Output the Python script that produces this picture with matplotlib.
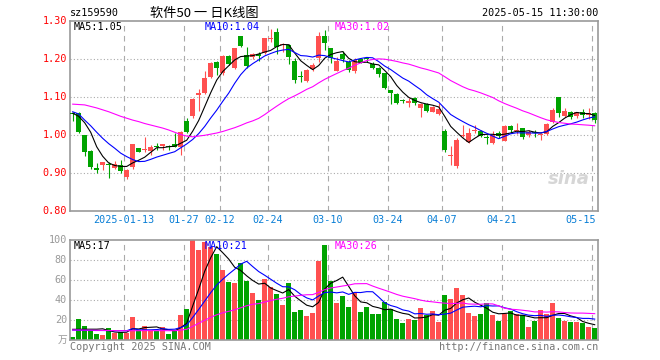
import matplotlib
matplotlib.use("Agg")
import matplotlib.pyplot as plt
import numpy as np
import pandas as pd

plt.rcParams["font.family"] = ["DejaVu Sans Mono", "Noto Sans CJK SC"]

# trading days shown (Shenzhen calendar)
holidays = ["2025-01-01", "2025-01-28", "2025-01-29", "2025-01-30", "2025-01-31",
            "2025-02-03", "2025-02-04", "2025-04-04", "2025-05-01", "2025-05-02",
            "2025-05-05"]
dates = pd.bdate_range("2024-12-30", "2025-05-15", freq="C", holidays=holidays)

open_ = [1.058, 1.058, 1.000, 0.958, 0.912, 0.922, 0.925, 0.913, 0.921, 0.891,
         0.917, 0.967, 0.962, 0.959, 0.971, 0.972, 0.972, 0.977, 0.968, 1.038,
         1.052, 1.105, 1.111, 1.154, 1.194, 1.163, 1.210, 1.176, 1.261, 1.211,
         1.205, 1.212, 1.216, 1.253, 1.271, 1.237, 1.238, 1.196, 1.156, 1.143,
         1.175, 1.203, 1.261, 1.229, 1.170, 1.214, 1.192, 1.170, 1.200, 1.201,
         1.188, 1.176, 1.163, 1.119, 1.109, 1.090, 1.086, 1.097, 1.073, 1.082,
         1.062, 1.056, 1.010, 0.946, 0.918, 0.999, 0.983, 1.012, 1.011, 0.993,
         0.981, 1.006, 0.986, 1.025, 1.012, 1.018, 1.001, 1.008, 1.002, 1.004,
         1.036, 1.102, 1.051, 1.062, 1.051, 1.060, 1.054, 1.058]
high = [1.061, 1.060, 1.002, 0.960, 0.926, 0.930, 0.930, 0.933, 0.935, 0.910,
        0.978, 0.967, 0.995, 0.975, 0.981, 0.978, 0.975, 1.005, 1.010, 1.045,
        1.097, 1.122, 1.168, 1.192, 1.196, 1.210, 1.212, 1.231, 1.262, 1.233,
        1.216, 1.220, 1.257, 1.280, 1.282, 1.243, 1.240, 1.203, 1.169, 1.175,
        1.190, 1.273, 1.277, 1.231, 1.207, 1.223, 1.198, 1.203, 1.203, 1.207,
        1.194, 1.181, 1.165, 1.120, 1.110, 1.095, 1.097, 1.100, 1.086, 1.085,
        1.077, 1.084, 1.016, 0.972, 0.992, 1.027, 1.018, 1.027, 1.013, 1.000,
        1.011, 1.010, 1.026, 1.027, 1.032, 1.020, 1.014, 1.014, 1.006, 1.033,
        1.071, 1.102, 1.071, 1.064, 1.062, 1.068, 1.071, 1.060]
low = [1.038, 1.005, 0.945, 0.910, 0.900, 0.909, 0.888, 0.911, 0.902, 0.884,
       0.910, 0.955, 0.957, 0.948, 0.961, 0.961, 0.962, 0.968, 0.948, 1.005,
       1.045, 1.064, 1.109, 1.150, 1.159, 1.160, 1.185, 1.174, 1.232, 1.178,
       1.202, 1.196, 1.214, 1.245, 1.213, 1.220, 1.187, 1.137, 1.141, 1.140,
       1.168, 1.194, 1.225, 1.191, 1.168, 1.194, 1.166, 1.163, 1.189, 1.194,
       1.174, 1.154, 1.121, 1.082, 1.082, 1.084, 1.074, 1.080, 1.049, 1.062,
       1.060, 1.054, 0.957, 0.922, 0.913, 0.995, 0.980, 1.005, 0.996, 0.977,
       0.978, 0.993, 0.984, 1.005, 1.003, 0.990, 0.995, 0.995, 0.988, 1.001,
       1.033, 1.047, 1.047, 1.042, 1.045, 1.045, 1.042, 1.032]
close = [1.055, 1.010, 0.957, 0.917, 0.910, 0.930, 0.922, 0.924, 0.905, 0.909,
         0.977, 0.957, 0.964, 0.969, 0.970, 0.977, 0.970, 0.970, 1.008, 1.010,
         1.096, 1.111, 1.152, 1.191, 1.176, 1.208, 1.188, 1.229, 1.235, 1.183,
         1.213, 1.210, 1.255, 1.256, 1.233, 1.241, 1.207, 1.146, 1.154, 1.172,
         1.185, 1.261, 1.242, 1.203, 1.196, 1.200, 1.172, 1.198, 1.192, 1.200,
         1.176, 1.161, 1.124, 1.111, 1.084, 1.089, 1.091, 1.084, 1.082, 1.065,
         1.074, 1.068, 0.961, 0.949, 0.988, 1.001, 1.007, 1.015, 0.998, 0.992,
         1.001, 0.999, 1.025, 1.014, 1.015, 0.996, 1.010, 1.006, 1.004, 1.030,
         1.067, 1.060, 1.065, 1.049, 1.060, 1.054, 1.058, 1.040]
volume = [3.3, 21.3, 14.3, 10.3, 6.3, 5.3, 12.3, 7.3, 8.3, 7.3,
          23.3, 10.3, 14.3, 10.0, 9.0, 13.3, 6.3, 9.0, 25.3, 31.3,
          100.0, 90.3, 98.3, 93.0, 86.3, 70.3, 58.3, 57.3, 77.0, 59.3,
          47.3, 40.3, 61.3, 53.3, 46.3, 35.3, 57.3, 28.3, 30.3, 24.3,
          27.3, 79.3, 95.3, 59.3, 37.7, 44.3, 33.3, 48.3, 28.3, 33.3,
          26.3, 26.3, 38.7, 31.3, 21.3, 17.3, 21.3, 20.3, 32.3, 25.3,
          29.3, 18.3, 45.3, 41.3, 52.3, 45.3, 27.3, 24.3, 26.3, 37.3,
          25.3, 19.3, 26.0, 29.0, 26.0, 25.0, 13.0, 19.0, 30.0, 26.0,
          37.0, 22.0, 19.0, 18.0, 18.0, 17.0, 13.0, 12.0]

# moving-average values before enough history is visible
ma5_head = [1.058, 1.050, 1.033, 1.008]
ma10_head = [1.062, 1.056, 1.040, 1.025, 1.008, 0.992, 0.978, 0.966, 0.953]
ma30_head = [1.082, 1.081, 1.080, 1.076, 1.072, 1.067, 1.062, 1.056, 1.050, 1.045,
             1.040, 1.036, 1.031, 1.027, 1.023, 1.019, 1.014, 1.008, 1.002, 0.998,
             0.996, 0.998, 1.000, 1.003, 1.006, 1.010, 1.015, 1.020, 1.026]
vma5_head = [11.0, 11.0, 11.1, 11.1]
vma10_head = [10.2, 10.1, 10.0, 9.9, 9.8, 9.8, 9.7, 9.6, 9.6]
vma30_head = [10.3, 10.3, 10.2, 10.1, 10.0, 9.9, 9.8, 9.7, 9.6, 9.6,
              9.6, 9.6, 9.7, 9.7, 9.6, 9.7, 9.6, 9.6, 10.2, 11.0,
              14.0, 17.0, 20.0, 23.0, 25.5, 27.5, 29.0, 30.5, 32.5]

tick_dates = ["2025-01-13", "2025-01-27", "2025-02-12", "2025-02-24", "2025-03-10",
              "2025-03-24", "2025-04-07", "2025-04-21", "2025-05-15"]
tick_labels = ["2025-01-13", "01-27", "02-12", "02-24", "03-10",
               "03-24", "04-07", "04-21", "05-15"]
ma_labels = ["MA5:1.05", "MA10:1.04", "MA30:1.02"]
vma_labels = ["MA5:17", "MA10:21", "MA30:26"]


def moving(values, n, head):
    out = pd.Series(values).rolling(n).mean().to_numpy()
    out[:n - 1] = head
    return out


W, H = 660, 360
RED, GREEN = "#ff5050", "#00a300"
GRAY = "#999999"
FS = 7.3
LW = 0.8

o = np.array(open_)
c = np.array(close)
x = np.arange(len(dates))
colors = [RED if cc >= oo else GREEN for oo, cc in zip(o, c)]

fig = plt.figure(figsize=(W / 100, H / 100), dpi=100)
fig.patch.set_facecolor("white")


def px_axes(left, top, right, bottom):
    return fig.add_axes([left / W, 1 - bottom / H, (right - left) / W, (bottom - top) / H])


ax = px_axes(70, 21.3, 598, 211.3)
axv = px_axes(70, 240.3, 598, 340.3)

tick_idx = [dates.get_loc(pd.Timestamp(d)) for d in tick_dates]

for a in (ax, axv):
    a.set_xlim(-0.45, len(dates) - 0.45)
    for s in a.spines.values():
        s.set_color(GRAY)
        s.set_linewidth(1.2)
    a.set_xticks([])
    a.set_yticks([])
    for t in tick_idx:
        a.axvline(t - 0.5, color="#aaaaaa", lw=LW, ls=(0, (5, 4)), zorder=0)

# price panel
ax.set_ylim(0.80, 1.30)
for lvl in [0.90, 1.00, 1.10, 1.20]:
    ax.axhline(lvl, color="#aaaaaa", lw=LW, ls=(0, (1, 2)), zorder=0)

body_low = np.minimum(o, c)
body_h = np.maximum(np.abs(c - o), 0.0027)
ax.vlines(x, low, high, colors=colors, lw=LW, zorder=2)
ax.bar(x, body_h, bottom=body_low, width=0.83, color=colors, lw=0, zorder=3)

ax.plot(x, moving(close, 5, ma5_head), color="black", lw=LW, zorder=4)
ax.plot(x, moving(close, 10, ma10_head), color="#0000ff", lw=LW, zorder=4)
ax.plot(x, moving(close, 30, ma30_head), color="#ff00ff", lw=LW, zorder=4)

# volume panel
axv.set_ylim(0, 100)
for lvl in [20, 40, 60, 80]:
    axv.axhline(lvl, color="#aaaaaa", lw=LW, ls=(0, (1, 2)), zorder=0)
axv.bar(x, volume, width=0.83, color=colors, lw=0, zorder=2)
axv.plot(x, moving(volume, 5, vma5_head), color="black", lw=LW, zorder=4)
axv.plot(x, moving(volume, 10, vma10_head), color="#0000ff", lw=LW, zorder=4)
axv.plot(x, moving(volume, 30, vma30_head), color="#ff00ff", lw=LW, zorder=4)


def ftext(px, py, s, **kw):
    fig.text(px / W, 1 - py / H, s, va="center", **kw)


# header
ftext(70, 13, "sz159590", fontsize=FS, color="black")
ftext(150, 13, "软件50 一 日K线图", fontsize=9.5, color="black",
      family=["Noto Sans CJK SC", "DejaVu Sans"])
ftext(598, 13, "2025-05-15 11:30:00", fontsize=FS, color="black", ha="right")

# MA legends
for (s, col, xp) in zip(ma_labels, ["black", "#0000ff", "#ff00ff"], [74, 205, 335]):
    ftext(xp, 27, s, fontsize=FS, color=col)
for (s, col, xp) in zip(vma_labels, ["black", "#0000ff", "#ff00ff"], [74, 205, 335]):
    ftext(xp, 246, s, fontsize=FS, color=col)

# y labels
for lvl in [1.30, 1.20, 1.10, 1.00, 0.90, 0.80]:
    yp = 21.3 + (1.30 - lvl) * 380
    ftext(67, yp, f"{lvl:.2f}", fontsize=FS, color="red", ha="right")
for lvl in [100, 80, 60, 40, 20]:
    yp = 340.3 - lvl
    ftext(67, yp, str(lvl), fontsize=FS, color=GRAY, ha="right")
ftext(67, 340, "万", fontsize=7, color=GRAY, ha="right",
      family=["Noto Sans CJK SC", "DejaVu Sans"])

# date labels
for t, lab in zip(tick_idx, tick_labels):
    xp = 70 + 6 * t
    if xp + len(lab) * 3 > 598:
        ftext(596, 220, lab, fontsize=FS, color="#0a7fd6", ha="right")
    else:
        ftext(xp, 220, lab, fontsize=FS, color="#0a7fd6", ha="center")

# watermark and footer
ftext(590, 179, "sina", fontsize=13, color="#d6d6d6", ha="right",
      style="italic", weight="bold", family="DejaVu Sans")
ftext(70, 347, "Copyright 2025 SINA.COM", fontsize=FS, color="#777777")
ftext(598, 347, "http://finance.sina.com.cn", fontsize=FS, color="#777777", ha="right")

fig.savefig("out.png", dpi=100)
